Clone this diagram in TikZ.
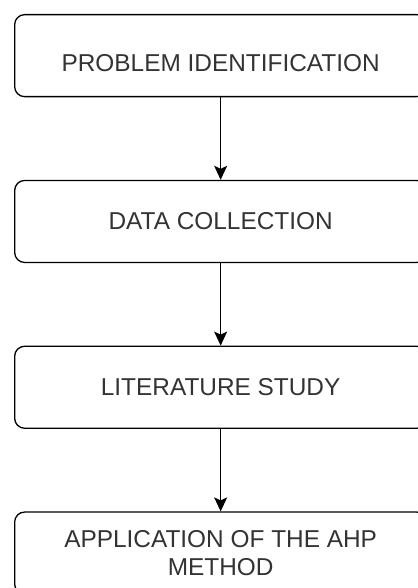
\documentclass[tikz,border=0pt]{standalone}
\usepackage{fontspec}
\setmainfont{Liberation Sans}
\usepackage{tikz}
\usetikzlibrary{positioning,arrows.meta}

\definecolor{txtgray}{RGB}{51,51,51}

\tikzset{
	stepbox/.style={draw, rounded corners=10pt, line width=1.3pt, minimum width=412pt, minimum height=82pt,
		align=center, text=txtgray, font=\fontsize{24.4}{28.5}\selectfont},
	flow/.style={-{Stealth[length=14pt, width=13pt, inset=3pt]}, line width=1.3pt}
}

\begin{document}
\begin{tikzpicture}[node distance=82.5pt]

				\useasboundingbox (0,0) rectangle (417pt,-588pt);

				\node[stepbox, anchor=north west, text height=31.5pt, text depth=0pt] (b1) at (14pt,-14pt) {PROBLEM IDENTIFICATION};
				\node[stepbox, below=of b1] (b2) {DATA COLLECTION};
				\node[stepbox, below=of b2] (b3) {LITERATURE STUDY};
				\node[stepbox, below=of b3] (b4) {APPLICATION OF THE AHP\\METHOD};

				\path[flow] (b1) edge (b2);
				\path[flow] (b2) edge (b3);
				\path[flow] (b3) edge (b4);

			\end{tikzpicture}
\end{document}
